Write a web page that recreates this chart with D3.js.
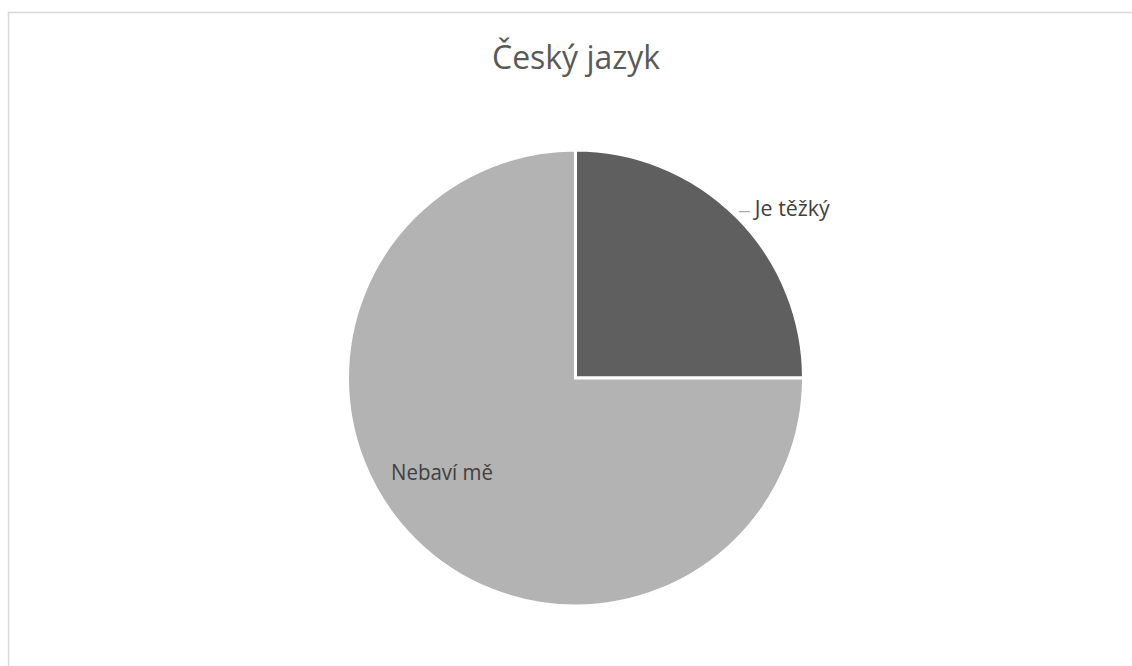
<!DOCTYPE html>
<html>
<head>
<meta charset="utf-8">
<script src="https://cdn.jsdelivr.net/npm/d3@7"></script>
<style>
  html, body { margin: 0; padding: 0; background: #fff; overflow: hidden; }
  svg { display: block; }
</style>
</head>
<body>
<svg id="chart" width="1132" height="666"></svg>
<script>
// Survey answers for "Český jazyk"
const title = "Český jazyk";
const categories = ["Je těžký", "Nebaví mě"];
const values = [1, 3];
const colors = ["#5f5f5f", "#b3b3b3"];

const svg = d3.select("#chart");

// Chart area frame (extends past the right and bottom edges)
svg.append("rect")
  .attr("x", 8.5).attr("y", 12.5)
  .attr("width", 1140).attr("height", 700)
  .attr("fill", "#fff")
  .attr("stroke", "#d9d9d9")
  .attr("stroke-width", 1.5);

svg.append("text")
  .attr("x", 576).attr("y", 69)
  .attr("text-anchor", "middle")
  .attr("font-family", "'Open Sans', sans-serif")
  .attr("font-size", 33)
  .attr("fill", "#595959")
  .attr("textLength", 168)
  .attr("lengthAdjust", "spacingAndGlyphs")
  .text(title);

const cx = 575.5, cy = 378, r = 228;
const data = categories.map((c, i) => ({ name: c, value: values[i], color: colors[i] }));

const pie = d3.pie().sort(null).value(d => d.value).startAngle(0).endAngle(2 * Math.PI);
const arcs = pie(data);
const arc = d3.arc().innerRadius(0).outerRadius(r);

const g = svg.append("g").attr("transform", `translate(${cx},${cy})`);

g.selectAll("path.slice")
  .data(arcs)
  .join("path")
  .attr("class", "slice")
  .attr("d", arc)
  .attr("fill", d => d.data.color)
  .attr("stroke", "#fff")
  .attr("stroke-width", 3)
  .attr("stroke-linejoin", "miter");

const labelFont = "'Open Sans', sans-serif";
const mid = d => (d.startAngle + d.endAngle) / 2;

// Outside label with a short leader for the small slice
const small = arcs[0];
const a0 = mid(small);
const px = Math.sin(a0) * (r + 3), py = -Math.cos(a0) * (r + 3) - 3;
g.append("line")
  .attr("x1", px).attr("y1", py)
  .attr("x2", px + 11).attr("y2", py)
  .attr("stroke", "#a6a6a6").attr("stroke-width", 1.2);
g.append("text")
  .attr("x", px + 16).attr("y", py + 4.5)
  .attr("font-family", labelFont)
  .attr("font-size", 22)
  .attr("fill", "#404040")
  .attr("textLength", 75)
  .attr("lengthAdjust", "spacingAndGlyphs")
  .text(small.data.name);

// Inside label for the large slice
const big = arcs[1];
const a1 = mid(big) + 10 * Math.PI / 180;
const lr = r * 0.715;
g.append("text")
  .attr("x", Math.sin(a1) * lr).attr("y", -Math.cos(a1) * lr + 8.5)
  .attr("text-anchor", "middle")
  .attr("font-family", labelFont)
  .attr("font-size", 22)
  .attr("fill", "#404040")
  .attr("textLength", 102)
  .attr("lengthAdjust", "spacingAndGlyphs")
  .text(big.data.name);
</script>
</body>
</html>
